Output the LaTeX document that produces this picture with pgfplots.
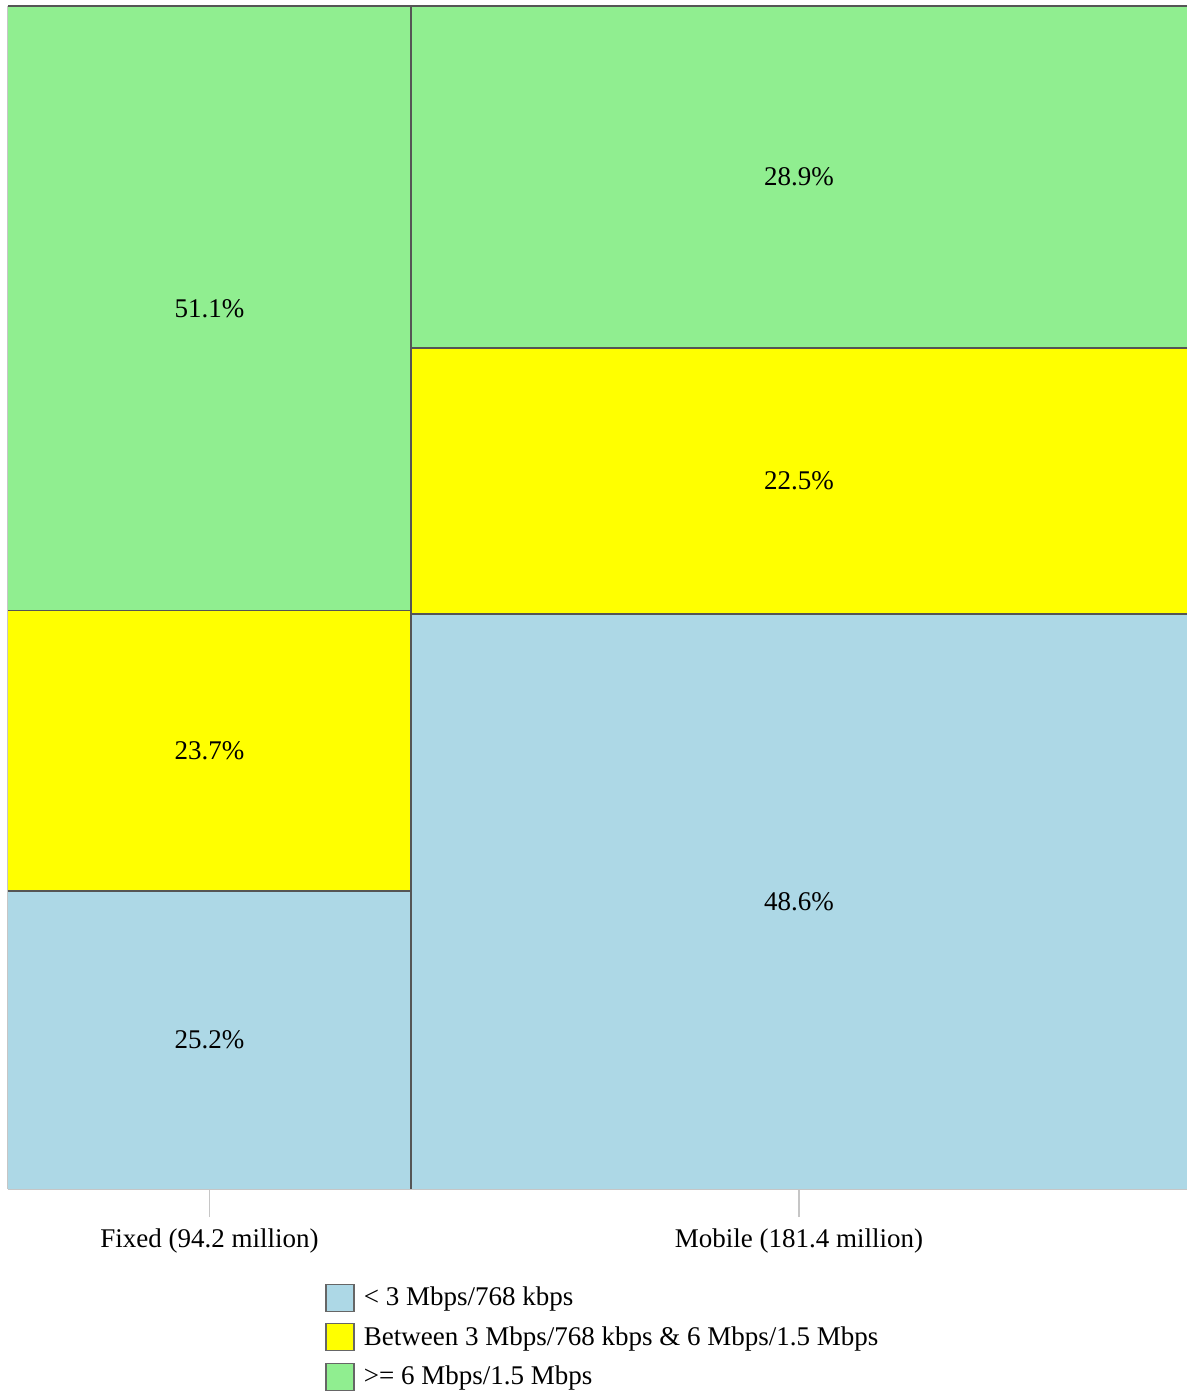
\documentclass[border=0pt]{standalone}
\usepackage{fontspec}
\setmainfont{Liberation Serif}
\usepackage{pgfplots}
\pgfplotsset{compat=1.18}
\newcommand\f{\fontsize{13.5}{16.2}\selectfont}
\definecolor{cblue}{HTML}{ADD8E6}
\definecolor{cyellow}{HTML}{FFFF00}
\definecolor{cgreen}{HTML}{90EE90}
\definecolor{edge}{HTML}{555555}
\begin{document}
\begin{tikzpicture}
\path[use as bounding box] (-4pt,-102pt) rectangle (589.5pt,594.5pt);
\begin{axis}[
  at={(0,0)}, anchor=south west,
  scale only axis, width=589.5pt, height=591.5pt,
  xmin=0, xmax=275.6, ymin=0, ymax=100,
  axis x line*=bottom, axis y line*=left,
  axis line style={draw=gray!45, line width=0.8pt},
  ytick=\empty,
  xtick={47.1,184.9},
  xticklabels={Fixed (94.2 million), Mobile (181.4 million)},
  tick align=outside, major tick length=14pt,
  tick style={draw=gray!45, line width=0.8pt},
  xticklabel style={font=\f, yshift=-2.5pt},
  font=\f,
  legend style={at={(axis description cs:0.2689,-0.0790)}, anchor=north west,
    draw=none, fill=none, font=\f, row sep=4.9pt, inner sep=0pt,
    cells={anchor=west},
    /tikz/every odd column/.append style={column sep=2.6pt}},
  legend cell align=left,
  legend image code/.code={\draw[#1, draw=gray!80!black, line width=0.6pt] (0pt,-6.8pt) rectangle (14pt,6.8pt);},
]
% Fixed column
\addplot[fill=cblue, draw=none] coordinates {(0,0) (94.2,0) (94.2,25.2) (0,25.2)} -- cycle;
\addlegendentry{< 3 Mbps/768 kbps}
\addplot[fill=cyellow, draw=none] coordinates {(0,25.2) (94.2,25.2) (94.2,48.9) (0,48.9)} -- cycle;
\addlegendentry{Between 3 Mbps/768 kbps \& 6 Mbps/1.5 Mbps}
\addplot[fill=cgreen, draw=none] coordinates {(0,48.9) (94.2,48.9) (94.2,100) (0,100)} -- cycle;
\addlegendentry{>= 6 Mbps/1.5 Mbps}
% Mobile column
\addplot[fill=cblue, draw=none, forget plot] coordinates {(94.2,0) (275.6,0) (275.6,48.6) (94.2,48.6)} -- cycle;
\addplot[fill=cyellow, draw=none, forget plot] coordinates {(94.2,48.6) (275.6,48.6) (275.6,71.1) (94.2,71.1)} -- cycle;
\addplot[fill=cgreen, draw=none, forget plot] coordinates {(94.2,71.1) (275.6,71.1) (275.6,100) (94.2,100)} -- cycle;
% dividers
\addplot[edge, line width=0.7pt, forget plot] coordinates {(94.2,0) (94.2,100)};
\addplot[edge, line width=0.7pt, forget plot] coordinates {(0,25.2) (94.2,25.2)};
\addplot[edge, line width=0.7pt, forget plot] coordinates {(0,48.9) (94.2,48.9)};
\addplot[edge, line width=0.7pt, forget plot] coordinates {(94.2,48.6) (275.6,48.6)};
\addplot[edge, line width=0.7pt, forget plot] coordinates {(94.2,71.1) (275.6,71.1)};
\addplot[edge, line width=0.9pt, forget plot] coordinates {(0,100) (275.6,100)};
% labels
\addplot[only marks, mark=none, forget plot, nodes near coords, point meta=explicit symbolic,
  nodes near coords align=center, every node near coord/.style={font=\f, anchor=center}]
  table[meta=label] {
x y label
47.1 12.6 25.2\%
47.1 37.05 23.7\%
47.1 74.45 51.1\%
184.9 24.3 48.6\%
184.9 59.85 22.5\%
184.9 85.55 28.9\%
};
\end{axis}
\end{tikzpicture}
\end{document}
